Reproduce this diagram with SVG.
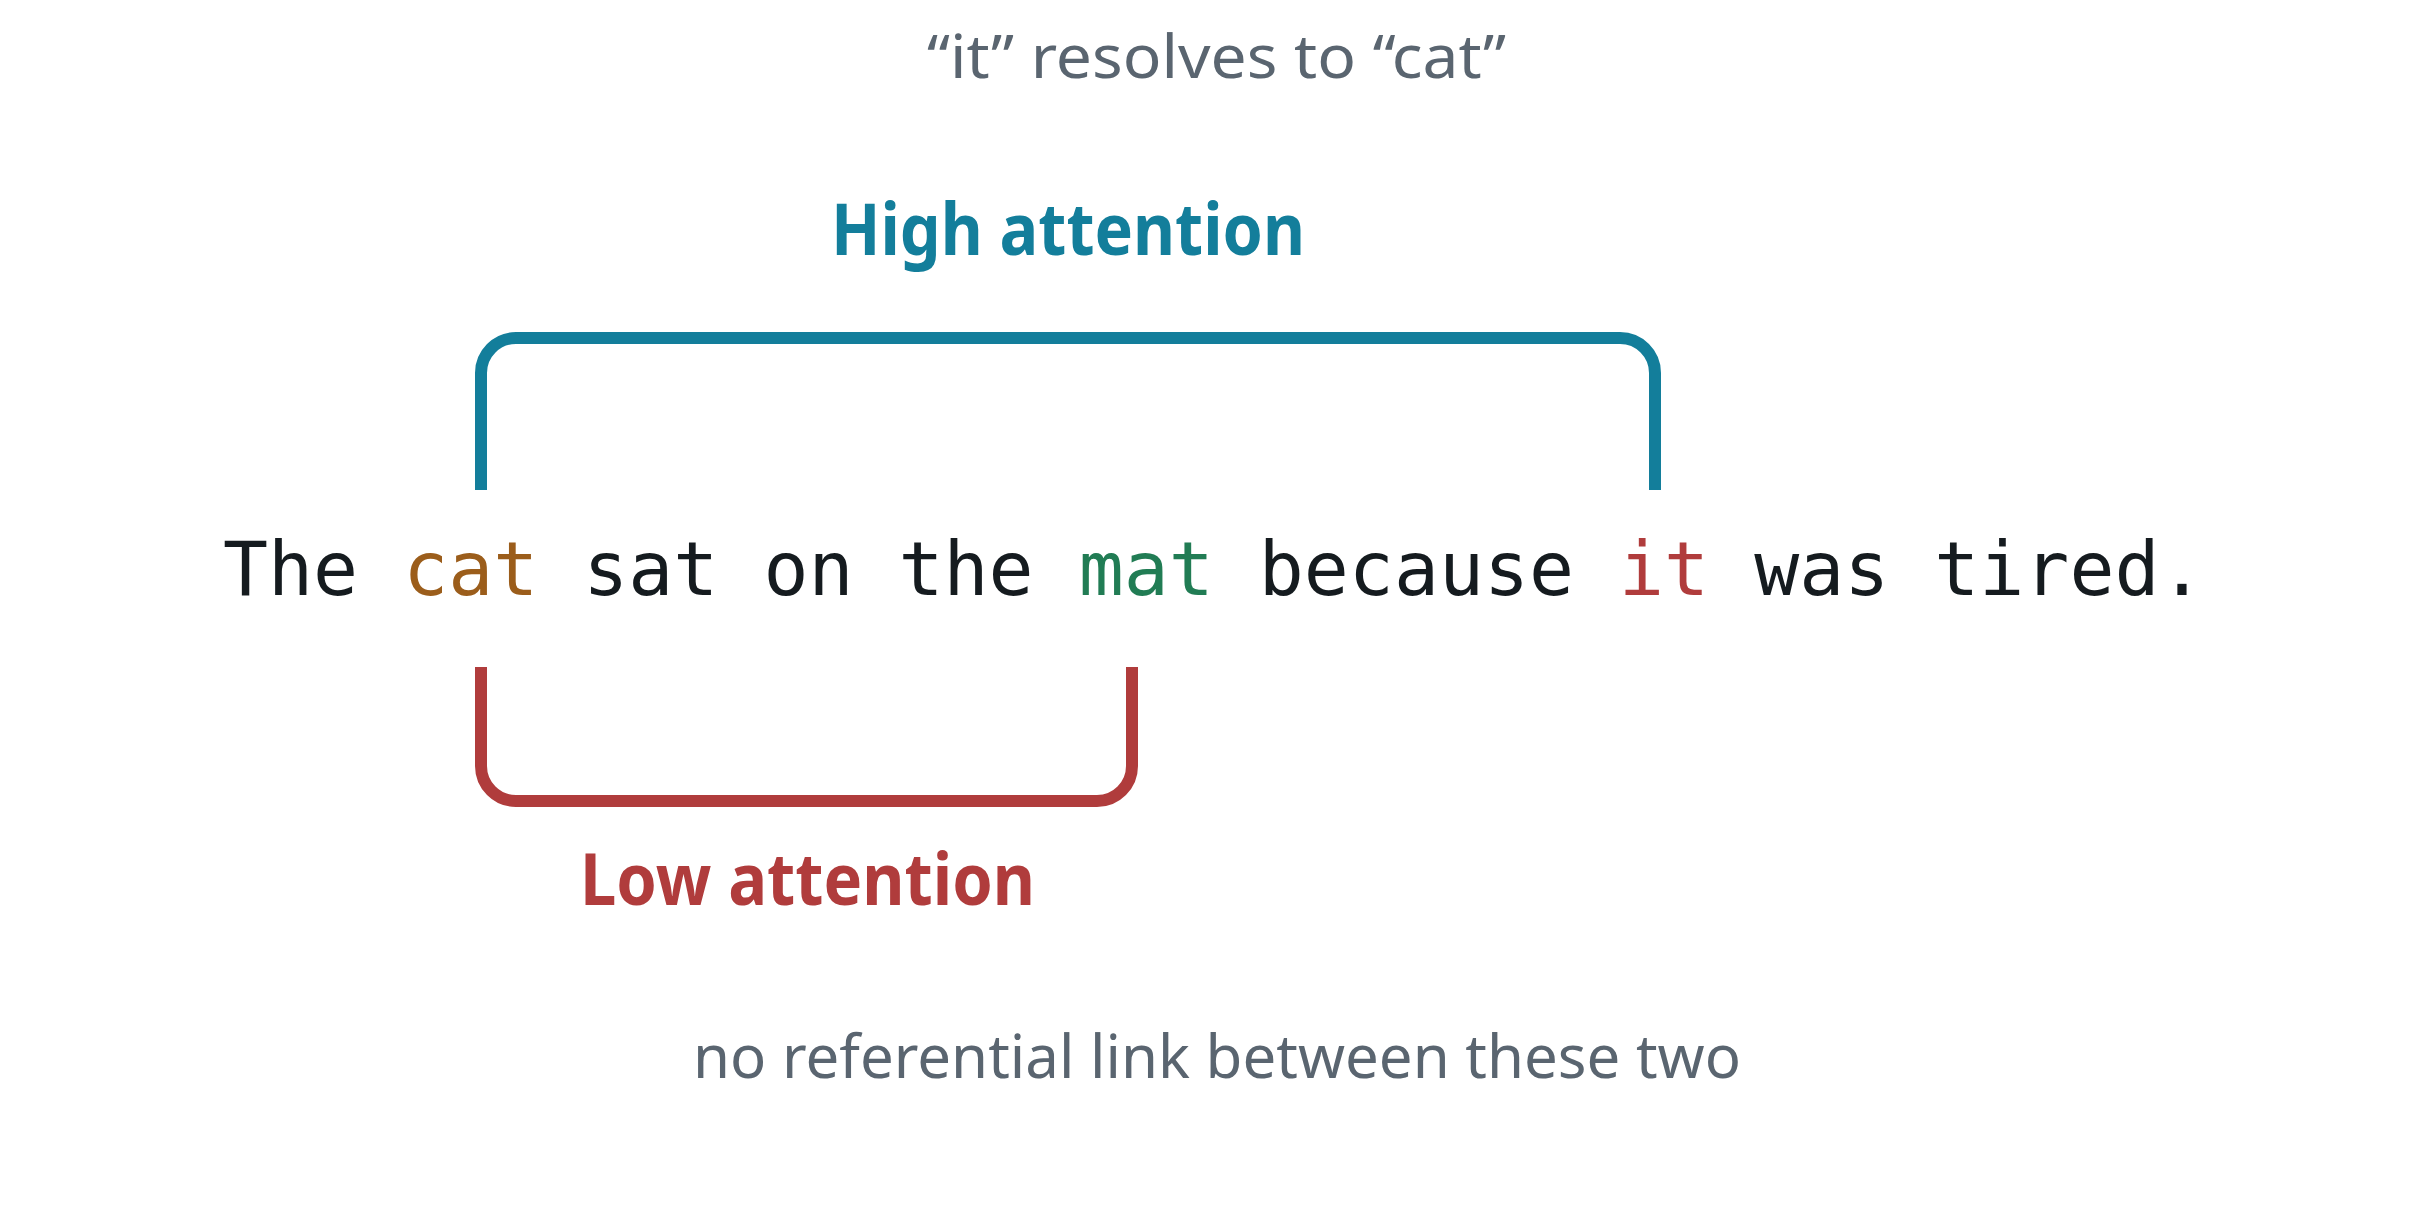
<svg xmlns="http://www.w3.org/2000/svg" width="2434" height="1217" viewBox="0 0 2434 1217">
  <style>
    .note { font-family: "Noto Sans", "Liberation Sans", sans-serif; font-size: 60px; fill: #5a6570; }
    .label { font-family: "Noto Sans", "Liberation Sans", sans-serif; font-size: 72px; font-weight: 700; }
    .sentence { font-family: "DejaVu Sans Mono", "Liberation Mono", monospace; font-size: 74.8px; fill: #151b1f; }
    .bracket { fill: none; stroke-width: 12; stroke-linecap: butt; stroke-linejoin: round; }
  </style>
  <rect width="2434" height="1217" fill="#ffffff"/>
  <g id="title">
    <text class="note" x="927" y="78" textLength="579" lengthAdjust="spacingAndGlyphs">“it” resolves to “cat”</text>
  </g>
  <g id="high-attention">
    <text class="label" x="831" y="255" fill="#137e9b" textLength="474" lengthAdjust="spacingAndGlyphs">High attention</text>
  </g>
  <g id="connectors">
    <path class="bracket" stroke="#137e9b" d="M481,490 V373 A35,35 0 0 1 516,338 H1620 A35,35 0 0 1 1655,373 V490"/>
    <path class="bracket" stroke="#b03c3c" d="M481,667 V766 A35,35 0 0 0 516,801 H1097 A35,35 0 0 0 1132,766 V667"/>
  </g>
  <g id="sentence">
    <text class="sentence" x="223" y="595" xml:space="preserve">The <tspan fill="#9b5d1b">cat</tspan> sat on the <tspan fill="#217c54">mat</tspan> because <tspan fill="#b03c3c">it</tspan> was tired.</text>
  </g>
  <g id="low-attention">
    <text class="label" x="580" y="905" fill="#b03c3c" textLength="455" lengthAdjust="spacingAndGlyphs">Low attention</text>
  </g>
  <g id="footnote">
    <text class="note" x="693" y="1078" textLength="1048" lengthAdjust="spacingAndGlyphs">no referential link between these two</text>
  </g>
</svg>
